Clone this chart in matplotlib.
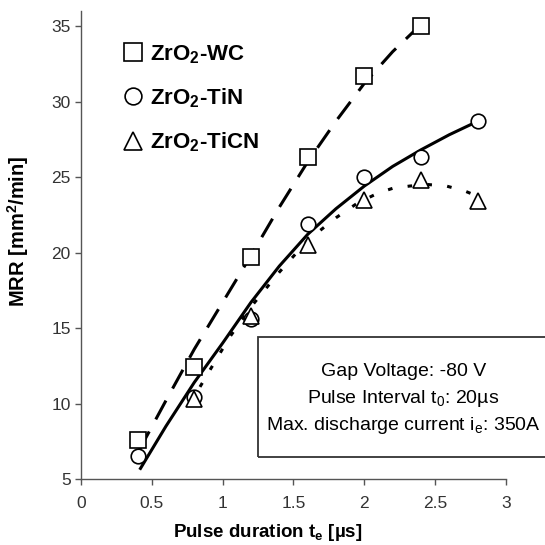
import matplotlib
matplotlib.use("Agg")
import matplotlib.pyplot as plt
from matplotlib.patches import Rectangle

plt.rcParams['font.family'] = ['Liberation Sans', 'DejaVu Sans']
plt.rcParams['mathtext.fontset'] = 'custom'
plt.rcParams['mathtext.rm'] = 'Liberation Sans'
plt.rcParams['mathtext.bf'] = 'Liberation Sans:bold'
plt.rcParams['mathtext.it'] = 'Liberation Sans:italic'

# measured points
pulse_wc = [0.4, 0.8, 1.2, 1.6, 2.0, 2.4]
mrr_wc = [7.6, 12.4, 19.7, 26.3, 31.7, 35.0]

pulse_tin = [0.4, 0.8, 1.2, 1.6, 2.0, 2.4, 2.8]
mrr_tin = [6.5, 10.4, 15.6, 21.9, 25.0, 26.3, 28.7]

pulse_ticn = [0.8, 1.2, 1.6, 2.0, 2.4, 2.8]
mrr_ticn = [10.3, 15.8, 20.5, 23.5, 24.8, 23.4]

# trend lines
trend_wc_x = [0.41, 0.6, 0.8, 1.0, 1.2, 1.4, 1.6, 1.8, 2.0, 2.2, 2.4]
trend_wc_y = [6.9, 10.2, 13.6, 16.7, 19.8, 23.0, 26.0, 28.7, 31.2, 33.3, 35.1]

trend_tin_x = [0.42, 0.6, 0.8, 1.0, 1.2, 1.4, 1.6, 1.8, 2.0, 2.2, 2.4, 2.6, 2.78]
trend_tin_y = [5.7, 8.5, 11.4, 14.0, 16.7, 19.1, 21.2, 22.9, 24.4, 25.7, 26.8, 27.8, 28.6]

trend_ticn_x = [0.84, 0.96, 1.05, 1.2, 1.4, 1.6, 1.8, 1.95, 2.1, 2.2, 2.32, 2.45, 2.58, 2.71, 2.78]
trend_ticn_y = [11.1, 13.0, 14.4, 16.4, 18.7, 20.8, 22.3, 23.26, 23.95, 24.25, 24.4, 24.5, 24.4, 24.07, 23.8]

labels = [r'ZrO$_\mathbf{2}$-WC', r'ZrO$_\mathbf{2}$-TiN', r'ZrO$_\mathbf{2}$-TiCN']

fig = plt.figure(figsize=(5.45, 5.45), dpi=100)
ax = fig.add_axes([0.1486, 0.1211, 0.7798, 0.8589])

ax.plot(trend_wc_x, trend_wc_y, color='black', lw=2.2, dashes=(7, 4.5))
ax.plot(trend_tin_x, trend_tin_y, color='black', lw=2.2, solid_joinstyle='round')
ax.plot(trend_ticn_x, trend_ticn_y, color='black', lw=2.2, dashes=(1.5, 5))

mk = dict(ls='none', mfc='white', mec='black', mew=1.2, color='black')
ax.plot(pulse_wc, mrr_wc, marker='s', ms=11, label=labels[0], **mk)
ax.plot(pulse_tin, mrr_tin, marker='o', ms=10.5, label=labels[1], **mk)
ax.plot(pulse_ticn, mrr_ticn, marker='^', ms=11, label=labels[2], **mk)

ax.set_xlim(0, 3)
ax.set_ylim(5, 36)
ax.set_xticks([0, 0.5, 1, 1.5, 2, 2.5, 3])
ax.set_xticklabels(['0', '0.5', '1', '1.5', '2', '2.5', '3'])
ax.set_yticks([5, 10, 15, 20, 25, 30, 35])

for s in ['top', 'right']:
    ax.spines[s].set_visible(False)
for s in ['left', 'bottom']:
    ax.spines[s].set_color('#555555')
    ax.spines[s].set_linewidth(1.0)
ax.tick_params(direction='out', length=4.3, width=1, color='#555555',
               labelsize=12.5, labelcolor='#333333')
ax.tick_params(axis='x', pad=8)
ax.tick_params(axis='y', pad=3)

ax.set_xlabel(r'Pulse duration t$_\mathbf{e}$ [µs]', fontsize=13.5, fontweight='bold')
ax.set_ylabel(r'MRR [mm$^\mathbf{2}$/min]', fontsize=14.5, fontweight='bold')
ax.xaxis.set_label_coords(0.44, -0.092)
ax.yaxis.set_label_coords(-0.117, 0.53)

leg = ax.legend(loc='upper left', bbox_to_anchor=(0.078, 0.95), frameon=False,
                prop={'weight': 'bold', 'size': 16}, handlelength=0.9,
                handletextpad=0.3, labelspacing=0.92, borderaxespad=0,
                markerscale=1.15)

box = Rectangle((0.473, 0.1615), 0.56, 0.221, transform=fig.transFigure,
                fill=False, ec='#333333', lw=1.3, clip_on=False)
fig.patches.append(box)
fig.text(0.74, 0.3175, 'Gap Voltage: -80 V', ha='center', va='center', fontsize=14)
fig.text(0.74, 0.268, r'Pulse Interval t$_\mathrm{0}$: 20µs', ha='center', va='center', fontsize=14)
fig.text(0.74, 0.220, r'Max. discharge current i$_\mathrm{e}$: 350A', ha='center', va='center', fontsize=14)

fig.savefig('out.png', dpi=100)
